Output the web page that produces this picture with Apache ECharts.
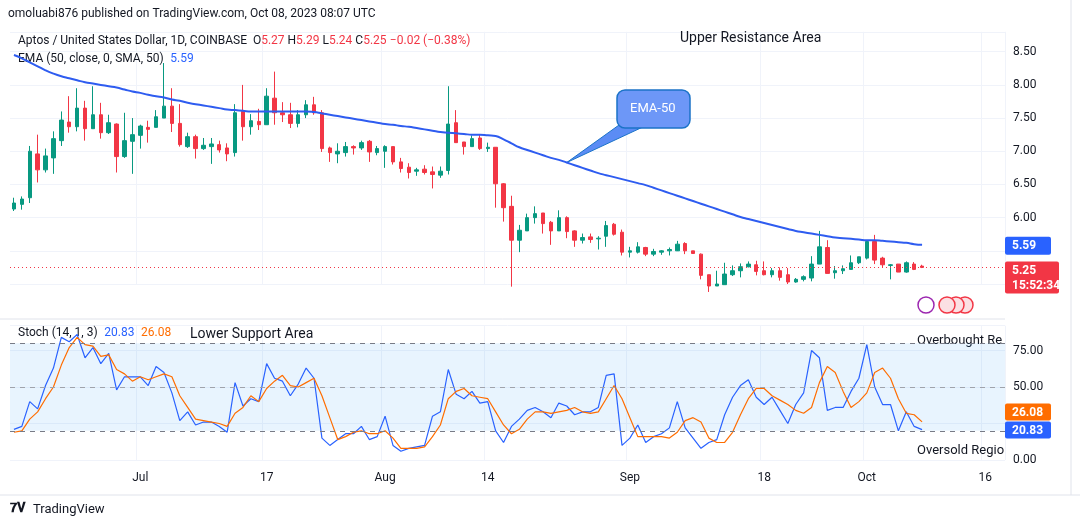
<!DOCTYPE html>
<html><head><meta charset="utf-8">
<script src="https://cdn.jsdelivr.net/npm/echarts@6/dist/echarts.min.js"></script>
<style>html,body{margin:0;padding:0;background:#fff}#c{width:1080px;height:528px}</style>
</head><body><div id="c"></div>
<script>
const startDate = '2023-06-15';
const axisDays = 126;
const tickDates = ['2023-07-01','2023-07-17','2023-08-01','2023-08-14','2023-09-01','2023-09-18','2023-10-01','2023-10-16'];
const tickTexts = ['Jul','17','Aug','14','Sep','18','Oct','16'];
const opens = [6.13,6.2,6.3,6.96,6.72,6.9,7.16,7.44,7.37,7.65,7.34,7.55,7.28,7.41,6.92,7.15,7.24,7.36,7.36,7.5,7.68,7.42,7.07,7.22,7.04,7.07,7.1,7.05,6.98,7.6,7.37,7.45,7.4,7.8,7.58,7.55,7.42,7.55,
7.7,7.58,7.05,6.96,6.98,7.07,7.05,7.15,6.98,7.0,7.07,6.84,6.76,6.7,6.73,6.69,6.64,6.71,7.43,7.14,7.07,7.2,7.04,7.06,6.51,6.17,5.66,5.8,6.0,6.07,5.93,5.8,6.0,5.8,5.66,5.71,5.68,5.72,5.9,5.78,5.48,5.48,
5.55,5.45,5.48,5.5,5.5,5.61,5.5,5.45,5.14,4.97,4.99,5.14,5.2,5.26,5.29,5.2,5.14,5.2,5.14,5.03,5.07,5.09,5.3,5.55,5.17,5.2,5.22,5.32,5.39,5.64,5.39,5.28,5.3,5.18,5.3,5.27];
const closes = [6.22,6.28,7.0,6.72,6.93,7.19,7.47,7.37,7.65,7.34,7.55,7.28,7.43,6.92,7.16,7.25,7.38,7.33,7.52,7.68,7.42,7.1,7.22,7.04,7.09,7.11,7.02,6.96,7.58,7.37,7.46,7.4,7.83,7.58,7.55,7.42,7.55,7.7,
7.58,7.04,6.98,7.0,7.07,7.05,7.13,6.99,7.04,7.07,6.84,6.74,6.68,6.72,6.68,6.65,6.7,7.41,7.13,7.07,7.19,7.04,7.06,6.51,6.15,5.66,5.81,6.0,6.06,5.91,5.8,6.0,5.79,5.66,5.7,5.67,5.69,5.88,5.75,5.48,5.5,5.56,
5.45,5.49,5.5,5.52,5.6,5.5,5.46,5.13,4.97,5.0,5.15,5.2,5.26,5.3,5.19,5.14,5.2,5.1,5.03,5.07,5.11,5.3,5.56,5.16,5.2,5.23,5.32,5.41,5.64,5.36,5.29,5.29,5.18,5.32,5.22,5.25];
const lows = [6.1,6.12,6.22,6.53,6.68,6.66,7.08,7.28,7.3,7.16,7.34,7.19,7.26,6.68,6.9,6.66,7.04,7.13,7.36,7.5,7.29,7.07,7.05,6.89,7.02,6.81,6.98,6.85,6.92,7.16,7.25,7.32,7.4,7.4,7.44,7.35,7.36,7.5,
7.55,6.99,6.84,6.82,6.92,6.95,7.02,6.84,6.94,6.75,6.8,6.68,6.59,6.63,6.65,6.44,6.6,6.65,7.13,6.95,7.07,7.02,6.99,6.15,5.94,4.96,5.48,5.8,5.91,5.76,5.59,5.8,5.69,5.56,5.61,5.62,5.52,5.56,5.73,5.43,5.4,5.46,
5.42,5.42,5.44,5.43,5.52,5.45,5.46,5.07,4.88,4.97,4.99,5.12,5.1,5.25,5.13,5.13,5.1,5.05,5.0,5.02,5.04,5.04,5.3,5.16,5.08,5.15,5.22,5.3,5.37,5.3,5.25,5.07,5.18,5.17,5.21,5.24];
const highs = [6.3,6.32,7.08,7.25,7.04,7.3,7.6,7.83,7.95,7.76,7.98,7.73,7.55,7.42,7.58,7.5,7.4,7.46,7.62,8.33,7.95,7.71,7.28,7.25,7.2,7.2,7.16,7.12,7.71,8.0,7.56,7.64,7.95,8.2,7.74,7.73,7.62,7.77,
7.82,7.62,7.07,7.12,7.14,7.09,7.16,7.17,7.08,7.09,7.07,6.9,6.82,6.75,6.79,6.77,6.77,7.98,7.62,7.14,7.24,7.25,7.13,7.06,6.52,6.33,5.89,6.06,6.17,6.07,5.95,6.11,6.02,5.81,5.76,5.76,5.72,5.95,5.92,5.82,5.56,5.63,
5.56,5.53,5.51,5.55,5.65,5.63,5.5,5.46,5.14,5.2,5.32,5.28,5.31,5.34,5.35,5.34,5.24,5.25,5.24,5.09,5.13,5.42,5.8,5.66,5.27,5.28,5.43,5.41,5.65,5.74,5.41,5.3,5.3,5.34,5.33,5.29];
const ema50 = [8.45,8.40,8.34,8.28,8.22,8.17,8.13,8.10,8.07,8.04,8.02,8.00,7.98,7.96,7.93,7.90,7.88,7.85,7.83,7.81,7.78,7.76,7.73,7.71,7.69,7.67,7.65,7.63,
7.62,7.61,7.60,7.60,7.60,7.60,7.60,7.60,7.60,7.60,7.59,7.57,7.55,7.53,7.51,7.49,7.47,7.45,7.43,7.41,7.40,7.38,7.37,7.35,7.33,7.31,7.29,7.28,7.27,7.26,7.25,7.25,7.24,7.23,
7.18,7.12,7.06,7.02,6.98,6.94,6.90,6.87,6.83,6.79,6.75,6.71,6.67,6.64,6.61,6.58,6.55,6.52,6.49,6.45,6.41,6.37,6.33,6.29,6.25,6.21,6.17,6.13,6.09,6.05,6.01,5.98,5.95,
5.92,5.89,5.86,5.83,5.80,5.78,5.76,5.74,5.72,5.70,5.69,5.68,5.67,5.66,5.66,5.65,5.64,5.63,5.62,5.60,5.59];
const stochK = [21,23,40,35,51,63,84,81,86,70,77,66,73,48,57,57,57,51,64,60,46,27,33,24,26,26,23,19,53,37,42,40,66,56,54,44,52,63,56,15,10,
14,18,18,23,14,16,30,10,6,8,9,10,30,33,62,45,42,47,39,40,20,12,23,28,34,36,33,29,39,37,31,33,33,36,58,59,10,15,24,
12,16,18,22,40,22,15,8,12,14,31,43,51,55,43,38,43,34,25,38,46,75,70,34,36,36,47,56,79,50,38,38,20,33,23,20.83];
const stochD = [19,20,28,33,42,50,65,77,84,79,78,71,72,62,59,54,57,55,57,59,57,44,36,28,27,26,25,23,32,36,44,40,49,54,58,51,50,53,56,44,29,
14,16,19,20,18,18,20,15,8,8,8,9,16,24,42,47,49,44,43,42,33,24,18,21,28,33,33,32,33,34,36,33,32,33,42,51,42,29,16,
16,16,16,15,19,27,29,26,15,12,12,19,31,42,49,49,44,41,38,34,32,36,53,64,60,47,36,40,46,60,63,56,42,32,31,26.08];

const dates = [];
{ const d0 = new Date(startDate + 'T00:00:00Z');
  for (let i = 0; i < axisDays; i++) { const d = new Date(d0.getTime() + i*86400000); dates.push(d.toISOString().slice(0,10)); } }
const candles = opens.map((o,i)=>[o, closes[i], lows[i], highs[i]]);
const isTick = (i, v) => tickDates.indexOf(v) >= 0;
const UP='#089981', DN='#f23645', F='Roboto, "Noto Sans", sans-serif';

const chart = echarts.init(document.getElementById('c'));
const xBase = {type:'category', data:dates, boundaryGap:true, axisLine:{show:false}, axisTick:{show:false},
  splitLine:{show:true, interval:isTick, lineStyle:{color:'#f0f3fa'}}};
chart.setOption({
  animation:false,
  textStyle:{fontFamily:F},
  grid:[{left:10,right:75,top:31.8,height:252.2},{left:10,right:75,top:325.7,height:134.3}],
  xAxis:[Object.assign({gridIndex:0, axisLabel:{show:false}}, xBase),
         Object.assign({gridIndex:1, axisLabel:{show:true, interval:isTick, color:'#131722', fontSize:12, margin:12,
           formatter:v=>tickTexts[tickDates.indexOf(v)]||''}}, xBase)],
  yAxis:[{gridIndex:0, position:'right', min:5.0, max:8.8, interval:0.5, axisLine:{show:false}, axisTick:{show:false},
          splitLine:{lineStyle:{color:'#f0f3fa'}}, axisLabel:{color:'#131722', fontSize:12, margin:8, showMaxLabel:false,
          formatter:v=> v<5.9 ? '' : v.toFixed(2)}},
         {gridIndex:1, position:'right', min:0, max:92, interval:25, axisLine:{show:false}, axisTick:{show:false},
          splitLine:{lineStyle:{color:'#f0f3fa'}}, axisLabel:{color:'#131722', fontSize:12, margin:8, showMaxLabel:false,
          formatter:v=> v===25 ? '' : v.toFixed(2)}}],
  series:[
    {type:'candlestick', xAxisIndex:0, yAxisIndex:0, data:candles, barMaxWidth:6, clip:false,
     itemStyle:{color:UP, color0:DN, borderColor:UP, borderColor0:DN, borderWidth:1},
     markLine:{silent:true, symbol:'none', label:{show:false}, lineStyle:{color:DN, type:[1,3], width:1},
       data:[{yAxis:5.25}]}},
    {type:'line', xAxisIndex:0, yAxisIndex:0, data:ema50, symbol:'none', smooth:true, lineStyle:{color:'#2e5cf0', width:2}},
    {type:'line', xAxisIndex:1, yAxisIndex:1, data:stochK, symbol:'none', lineStyle:{color:'#2962ff', width:1.2},
     markArea:{silent:true, itemStyle:{color:'rgba(33,150,243,0.1)'}, data:[[{yAxis:20},{yAxis:80}]]},
     markLine:{silent:true, symbol:'none', label:{show:false}, lineStyle:{color:'#787b86', type:[5,5], width:1},
       data:[{yAxis:80},{yAxis:50, lineStyle:{color:'#a0a3ab'}},{yAxis:20}]}},
    {type:'line', xAxisIndex:1, yAxisIndex:1, data:stochD, symbol:'none', lineStyle:{color:'#ff6d00', width:1.2}}
  ]
});

const py = v => chart.convertToPixel({yAxisIndex:0}, v);
const sy = v => chart.convertToPixel({yAxisIndex:1}, v);
const emaPt = chart.convertToPixel({xAxisIndex:0, yAxisIndex:0}, [dates[70], ema50[70]]);
const tag = (y, h, color, lines, w) => ({type:'group', children:[
  {type:'rect', shape:{x:1005, y:y-9, width:w||46, height:h, r:2}, style:{fill:color}},
  {type:'text', x:1012, y:y-7, style:{text:lines, fill:'#fff', font:'bold 12px '+F, lineHeight:15}}]});
const txt = (x,y,t,color,size,w) => ({type:'text', x, y, style:{text:t, fill:color||'#131722', font:(w||'')+' '+(size||12)+'px '+F}});
const s20 = sy(20.83), s26 = sy(26.08);
chart.setOption({graphic:[
  txt(8,8,'omoluabi876 published on TradingView.com, Oct 08, 2023 08:07 UTC','#131722',12),
  {type:'text', x:18, y:35, style:{rich:{a:{fill:'#131722',fontSize:12,fontFamily:F},r:{fill:DN,fontSize:12,fontFamily:F}},
    text:'{a|Aptos / United States Dollar, 1D, COINBASE  O}{r|5.27}{a| H}{r|5.29}{a| L}{r|5.24}{a| C}{r|5.25} {r|−0.02 (−0.38%)}'}},
  {type:'text', x:18, y:53, style:{rich:{a:{fill:'#131722',fontSize:12,fontFamily:F},b:{fill:'#2962ff',fontSize:12,fontFamily:F}},
    text:'{a|EMA (50, close, 0, SMA, 50)}  {b|5.59}'}},
  txt(680,31,'Upper Resistance Area','#131722',14),
  {type:'text', x:18, y:327, style:{rich:{a:{fill:'#131722',fontSize:12,fontFamily:F},b:{fill:'#2962ff',fontSize:12,fontFamily:F},o:{fill:'#ff6d00',fontSize:12,fontFamily:F}},
    text:'{a|Stoch (14, 1, 3)}  {b|20.83}  {o|26.08}'}},
  txt(190,327,'Lower Support Area','#131722',14),
  txt(917,334,'Overbought Re','#131722',13),
  txt(917,444,'Oversold Regio','#131722',13),
  {type:'line', shape:{x1:0,y1:319,x2:1005,y2:319}, style:{stroke:'#e0e3eb', lineWidth:1}},
  {type:'line', shape:{x1:0,y1:495,x2:1080,y2:495}, style:{stroke:'#e0e3eb', lineWidth:1}},
  {type:'line', shape:{x1:1071,y1:0,x2:1071,y2:495}, style:{stroke:'#e0e3eb', lineWidth:1}},
  {type:'polygon', shape:{points:[[emaPt[0],emaPt[1]],[626,120],[645,126]]}, style:{fill:'#5b8cf5', stroke:'#1b73c8', lineWidth:1}},
  {type:'rect', shape:{x:617,y:90,width:73,height:38,r:8}, style:{fill:'#6d97f7', stroke:'#1b73c8', lineWidth:1.5}},
  txt(630,102,'EMA-50','#fff',13),
  tag(py(5.59)+1, 18, '#2962ff', '5.59'),
  tag(py(5.25)+3, 32, DN, '5.25\n15:52:34', 54),
  tag(s20 - 17, 17, '#ff6d00', '26.08'),
  tag(s20 + 1, 17, '#2962ff', '20.83'),
  {type:'circle', shape:{cx:926,cy:305,r:8}, style:{fill:'#fff', stroke:'#9c27b0', lineWidth:1.5}},
  {type:'circle', shape:{cx:965,cy:305,r:8}, style:{fill:'#fbe0e3', stroke:DN, lineWidth:1.5}},
  {type:'circle', shape:{cx:956,cy:305,r:8}, style:{fill:'#fbe0e3', stroke:DN, lineWidth:1.5}},
  {type:'circle', shape:{cx:947,cy:305,r:8}, style:{fill:'#fbe0e3', stroke:DN, lineWidth:1.5}},
  txt(33,503,'TradingView','#131722',13),
  txt(10,502,'𝟕𝐕','#131722',13,'bold')
]});
</script></body></html>
